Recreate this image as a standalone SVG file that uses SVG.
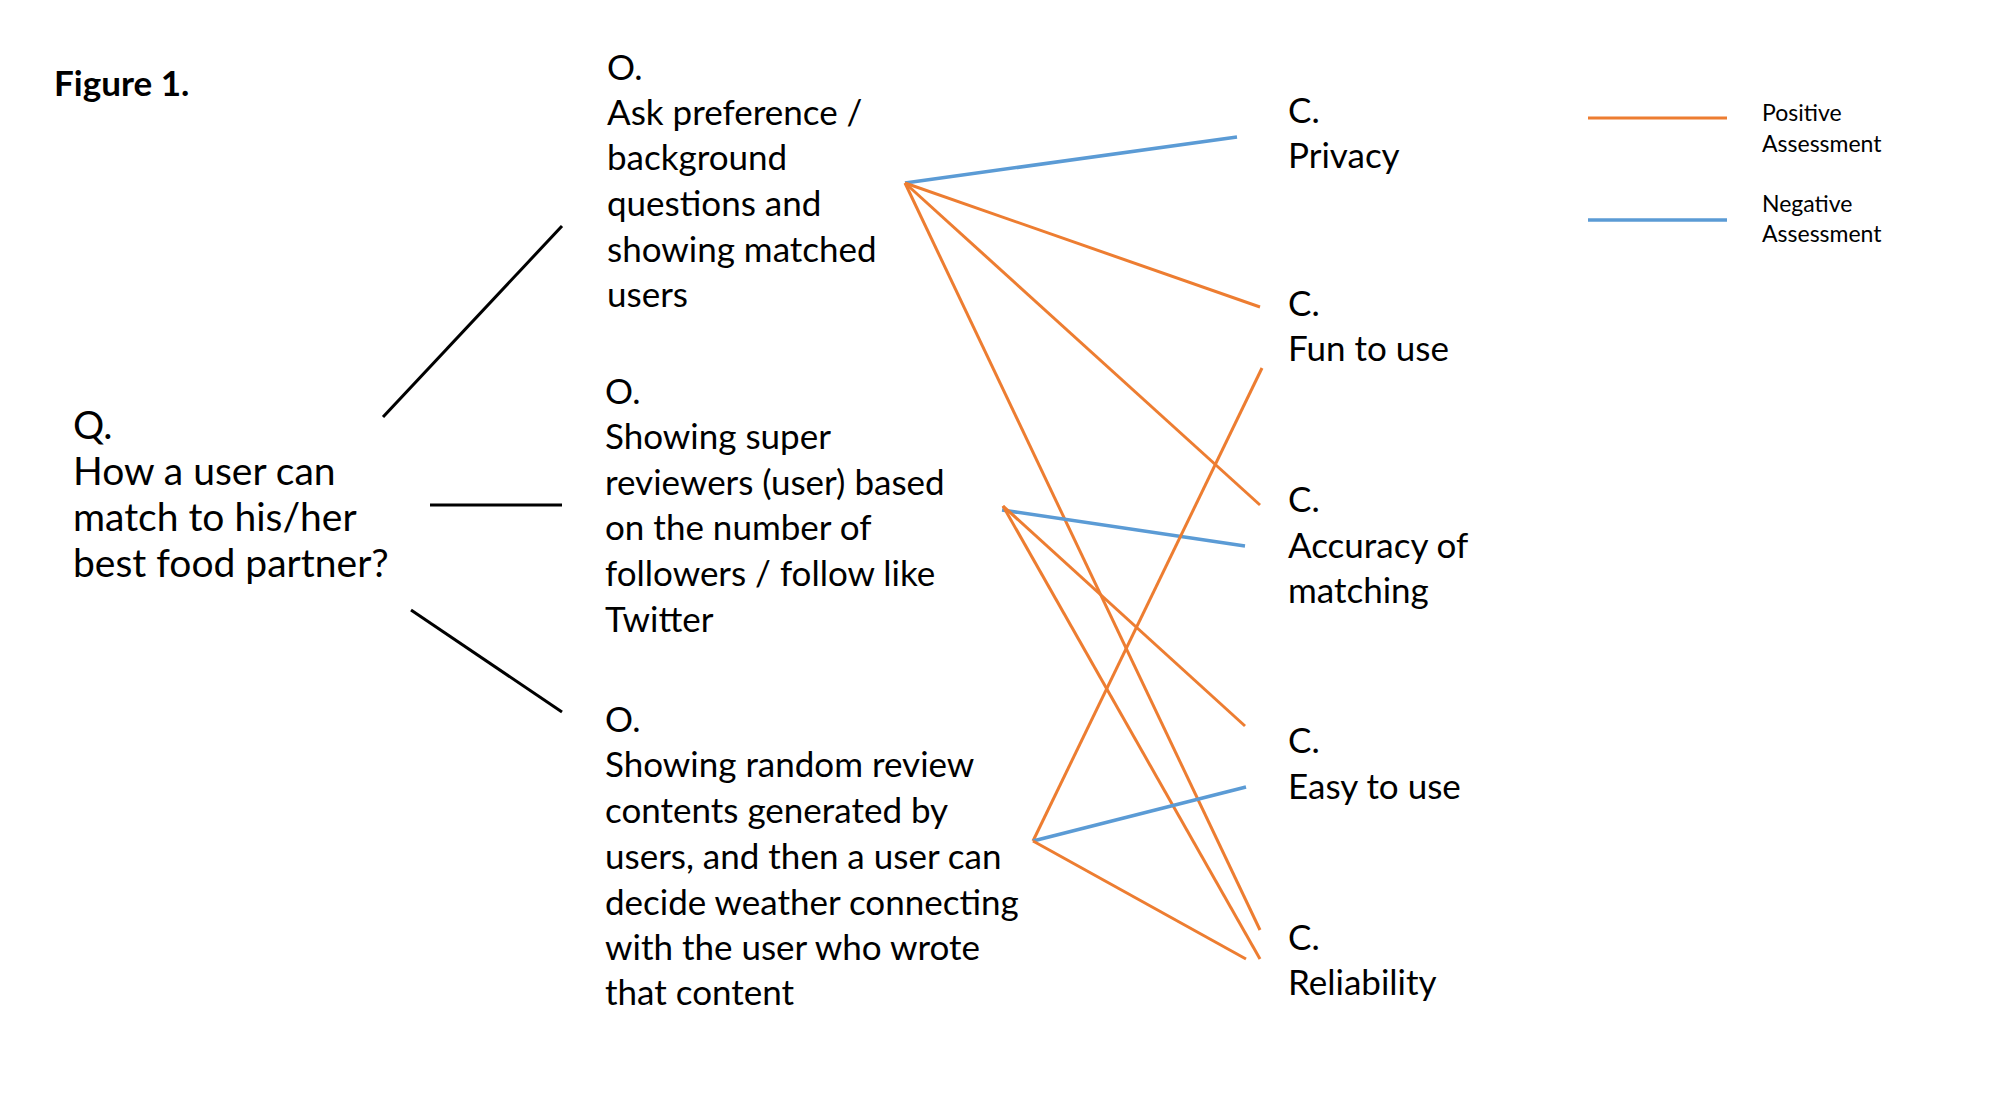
<svg xmlns="http://www.w3.org/2000/svg" width="2006" height="1094" viewBox="0 0 2006 1094">
<style>
text{font-family:Lato,"Open Sans","Liberation Sans",sans-serif;fill:#000}
.t{font-size:35px}
.tq{font-size:39px}
.lg{font-size:23px}
.fig{font-size:35px;font-weight:bold}
.k{stroke:#000;stroke-width:3;fill:none}
.pos{stroke:#ED7D31;stroke-width:3;fill:none}
.neg{stroke:#5B9BD5;stroke-width:3.5;fill:none}
</style>
<rect width="2006" height="1094" fill="#fff"/>
<text class="fig" x="54" y="96">Figure 1.</text>
<g id="q">
<text class="tq"><tspan x="73" y="439">Q.</tspan><tspan x="73" y="485">How a user can</tspan><tspan x="73" y="531">match to his/her</tspan><tspan x="73" y="577">best food partner?</tspan></text>
</g>
<g id="o1">
<text class="t"><tspan x="607" y="80">O.</tspan><tspan x="607" y="125">Ask preference /</tspan><tspan x="607" y="170">background</tspan><tspan x="607" y="216">questions and</tspan><tspan x="607" y="262">showing matched</tspan><tspan x="607" y="307">users</tspan></text>
</g>
<g id="o2">
<text class="t"><tspan x="605" y="404">O.</tspan><tspan x="605" y="449">Showing super</tspan><tspan x="605" y="495">reviewers (user) based</tspan><tspan x="605" y="540">on the number of</tspan><tspan x="605" y="586">followers / follow like</tspan><tspan x="605" y="632">Twitter</tspan></text>
</g>
<g id="o3">
<text class="t"><tspan x="605" y="732">O.</tspan><tspan x="605" y="777">Showing random review</tspan><tspan x="605" y="823">contents generated by</tspan><tspan x="605" y="869">users, and then a user can</tspan><tspan x="605" y="915">decide weather connecting</tspan><tspan x="605" y="960">with the user who wrote</tspan><tspan x="605" y="1005">that content</tspan></text>
</g>
<g id="c-privacy"><text class="t"><tspan x="1288" y="123">C.</tspan><tspan x="1288" y="168">Privacy</tspan></text></g>
<g id="c-fun"><text class="t"><tspan x="1288" y="316">C.</tspan><tspan x="1288" y="361">Fun to use</tspan></text></g>
<g id="c-accuracy"><text class="t"><tspan x="1288" y="512">C.</tspan><tspan x="1288" y="558">Accuracy of</tspan><tspan x="1288" y="603">matching</tspan></text></g>
<g id="c-easy"><text class="t"><tspan x="1288" y="753">C.</tspan><tspan x="1288" y="799">Easy to use</tspan></text></g>
<g id="c-reliability"><text class="t"><tspan x="1288" y="950">C.</tspan><tspan x="1288" y="995">Reliability</tspan></text></g>
<g id="legend">
<line class="pos" x1="1588" y1="118" x2="1727" y2="118" stroke-width="4"/>
<text class="lg"><tspan x="1762" y="121">Positive</tspan><tspan x="1762" y="152">Assessment</tspan></text>
<line class="neg" x1="1588" y1="220" x2="1727" y2="220" stroke-width="4"/>
<text class="lg"><tspan x="1762" y="212">Negative</tspan><tspan x="1762" y="242">Assessment</tspan></text>
</g>
<g id="connectors">
<line class="k" x1="383" y1="417" x2="562" y2="226"/>
<line class="k" x1="430" y1="505" x2="562" y2="505"/>
<line class="k" x1="411" y1="610" x2="562" y2="712"/>
<line class="neg" x1="905" y1="183" x2="1237" y2="137"/>
<line class="pos" x1="905" y1="183" x2="1260" y2="307"/>
<line class="pos" x1="905" y1="183" x2="1260" y2="505"/>
<line class="pos" x1="905" y1="183" x2="1260" y2="930"/>
<line class="neg" x1="1002" y1="510" x2="1245" y2="546"/>
<line class="pos" x1="1003" y1="506" x2="1245" y2="726"/>
<line class="pos" x1="1003" y1="506" x2="1260" y2="959"/>
<line class="pos" x1="1033" y1="841" x2="1262" y2="368"/>
<line class="neg" x1="1033" y1="841" x2="1246" y2="787"/>
<line class="pos" x1="1033" y1="841" x2="1246" y2="959"/>
</g>
</svg>
